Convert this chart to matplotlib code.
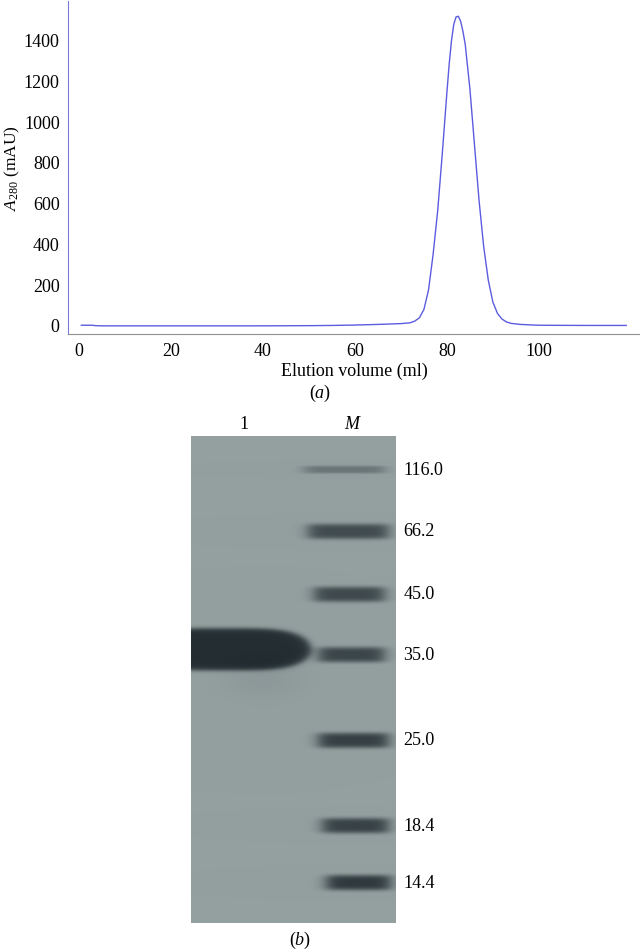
import numpy as np
import matplotlib.pyplot as plt

plt.rcParams['font.family'] = ['Liberation Serif', 'DejaVu Serif']
plt.rcParams['mathtext.fontset'] = 'custom'
plt.rcParams['mathtext.rm'] = 'Liberation Serif'
plt.rcParams['mathtext.it'] = 'Liberation Serif:italic'

# (a) chromatogram
volume_ml = [0.5, 1, 2, 3, 3.5, 5, 10, 20, 30, 40, 50, 55, 60, 65, 70, 72, 73, 74,
             75, 76, 77, 78, 79, 80, 80.5, 81, 81.5, 82, 82.5, 83, 83.5, 84, 85, 86,
             87, 88, 89, 90, 91, 92, 93, 94, 96, 100, 110, 119]
a280_mau = [-2, -2, -2, -2, -4, -5, -5, -5, -5, -5, -4, -3, -1, 2, 6, 10, 18, 34,
            75, 170, 345, 560, 840, 1140, 1280, 1395, 1475, 1512, 1515, 1490, 1440, 1375, 1160, 885,
            610, 385, 220, 112, 56, 28, 14, 7, 2, -2, -3, -3]
x_ticks = [0, 20, 40, 60, 80, 100]
y_ticks = [0, 200, 400, 600, 800, 1000, 1200, 1400]

# (b) SDS-PAGE, relative migration from top of gel
marker_kda = ['116.0', '66.2', '45.0', '35.0', '25.0', '18.4', '14.4']
marker_rf = [0.068, 0.195, 0.324, 0.448, 0.624, 0.799, 0.916]
marker_strength = [0.35, 0.70, 0.72, 0.75, 0.80, 0.78, 0.85]
sample_rf = 0.437
lane_names = ['1', 'M']

fig = plt.figure(figsize=(6.4, 9.53), dpi=100)

ax = fig.add_axes([68 / 640, 1 - 335 / 953, 572 / 640, 333 / 953])
ax.plot(volume_ml, a280_mau, color='#5c5ce0', lw=1.0)
ax.set_xlim(-2.4, 122)
ax.set_ylim(-45, 1590)
ax.set_xticks(x_ticks)
ax.set_yticks(y_ticks)
ax.tick_params(length=0, labelsize=13, pad=6)
for s in ['top', 'right']:
    ax.spines[s].set_visible(False)
ax.spines['left'].set_color('#7878e0')
ax.spines['bottom'].set_color('#909090')
ax.set_xlabel('Elution volume (ml)', fontsize=13, labelpad=2)
ax.set_ylabel(r'$\mathit{A}_{280}$ (mAU)', fontsize=12.5, labelpad=1)
fig.text(320 / 640, 1 - 393 / 953, r'($\mathit{a}$)', fontsize=13, ha='center', va='center')

# gel panel
gax = fig.add_axes([191 / 640, 1 - 924 / 953, 205 / 640, 487 / 953])
ny, nx = 487, 205
yy, xx = np.mgrid[0:ny, 0:nx]
yy = yy / ny
xx = xx / nx
ink = np.zeros((ny, nx))
band_left = [0.55, 0.57, 0.60, 0.62, 0.62, 0.64, 0.66]
band_right = [0.94, 0.96, 0.94, 0.94, 0.96, 0.96, 0.97]
for rf, amp, lft, rgt in zip(marker_rf, marker_strength, band_left, band_right):
    th = 0.008 if rf < 0.1 else 0.016
    prof_y = np.exp(-((yy - rf) / th) ** 4)
    prof_x = 1 / (1 + np.exp(-(xx - lft) / 0.02)) * 1 / (1 + np.exp((xx - rgt) / 0.02))
    ink += amp * prof_y * prof_x
# big sample band (rounded right end)
r = ((xx - 0.16) / 0.42) ** 4 + ((yy - sample_rf) / 0.043) ** 2
ink += 0.95 / (1 + np.exp((r - 1) / 0.12))
# faint smear under sample band
ink += 0.06 * np.exp(-((yy - 0.50) / 0.04) ** 2) * np.exp(-((xx - 0.35) / 0.2) ** 2)
ink = np.clip(ink, 0, 1)

bg = np.array([148, 160, 160]) / 255
dark = np.array([30, 40, 45]) / 255
img = bg[None, None, :] * (1 - ink[..., None]) + dark[None, None, :] * ink[..., None]
gax.imshow(img, extent=[0, 1, 1, 0], aspect='auto', interpolation='bilinear')
gax.set_xlim(0, 1)
gax.set_ylim(1, 0)
gax.set_xticks([])
gax.set_yticks([])
for s in gax.spines.values():
    s.set_visible(False)

for name, xpos in zip(lane_names, [0.26, 0.785]):
    gax.text(xpos, -0.025, name, fontsize=13, ha='center', va='center',
             style='italic' if name == 'M' else 'normal')
for lab, rf in zip(marker_kda, marker_rf):
    gax.text(1.035, rf, lab, fontsize=13, ha='left', va='center')
fig.text(300 / 640, 1 - 940 / 953, r'($\mathit{b}$)', fontsize=13, ha='center', va='center')

fig.savefig('out.png', dpi=100)
